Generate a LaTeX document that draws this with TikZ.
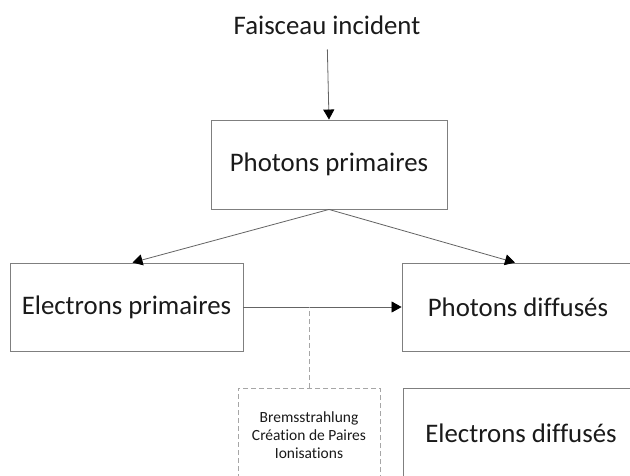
\documentclass[tikz,border=0pt]{standalone}
\usepackage{fontspec}
\setmainfont{Carlito}[Ligatures={NoCommon}]
\usetikzlibrary{arrows.meta}
\definecolor{boxline}{RGB}{127,127,127}
\definecolor{conline}{RGB}{100,100,100}
\definecolor{dashline}{RGB}{166,166,166}
\definecolor{txt}{RGB}{26,26,26}
\tikzset{
  bigtext/.style={font=\fontsize{26.8}{30}\selectfont, text=txt},
  boxnode/.style={draw=boxline, line width=0.9pt, bigtext, inner sep=0pt},
  dashbox/.style={draw=dashline, line width=0.9pt, dash pattern=on 5pt off 3pt,
    font=\fontsize{15.5}{18}\selectfont, text=txt, align=center, inner sep=0pt},
  conn/.style={draw=conline, line width=0.8pt,
    -{Triangle[length=10pt,width=11pt,color=black,fill=black]}},
  dashconn/.style={draw=dashline, line width=0.9pt, dash pattern=on 5pt off 3pt}
}
\begin{document}
\begin{tikzpicture}[x=1pt,y=-1pt]
\useasboundingbox (0,0) rectangle (630,475);
\clip (0,0) rectangle (630,475);
\fill[white] (0,0) rectangle (630,475);
\node[bigtext, inner sep=0pt, anchor=base] (fi) at (327,34.5) {Faisceau incident};
\node[boxnode, minimum width=236pt, minimum height=89pt] (pp) at (329,164.5) {Photons primaires};
\node[boxnode, minimum width=233pt, minimum height=88pt] (ep) at (126.5,307) {Electrons primaires};
\node[boxnode, minimum width=232pt, minimum height=88pt] (pd) at (518,307) {Photons diffusés};
\node[boxnode, minimum width=236pt, minimum height=90pt] (ed) at (521,433) {Electrons diffusés};
\node[dashbox, minimum width=142pt, minimum height=94pt] (db) at (309,435) {Bremsstrahlung\\Création de Paires\\Ionisations};
\draw[conn, shorten <=15pt] (fi.base) -- (pp.north);
\draw[conn] (pp.south) -- ([xshift=6pt]ep.north);
\draw[conn] (pp.south) -- ([xshift=-3pt]pd.north);
\draw[conn] (ep.east) -- (pd.west);
\draw[dashconn] (db.north) -- (db.north |- ep.east);
\end{tikzpicture}
\end{document}
